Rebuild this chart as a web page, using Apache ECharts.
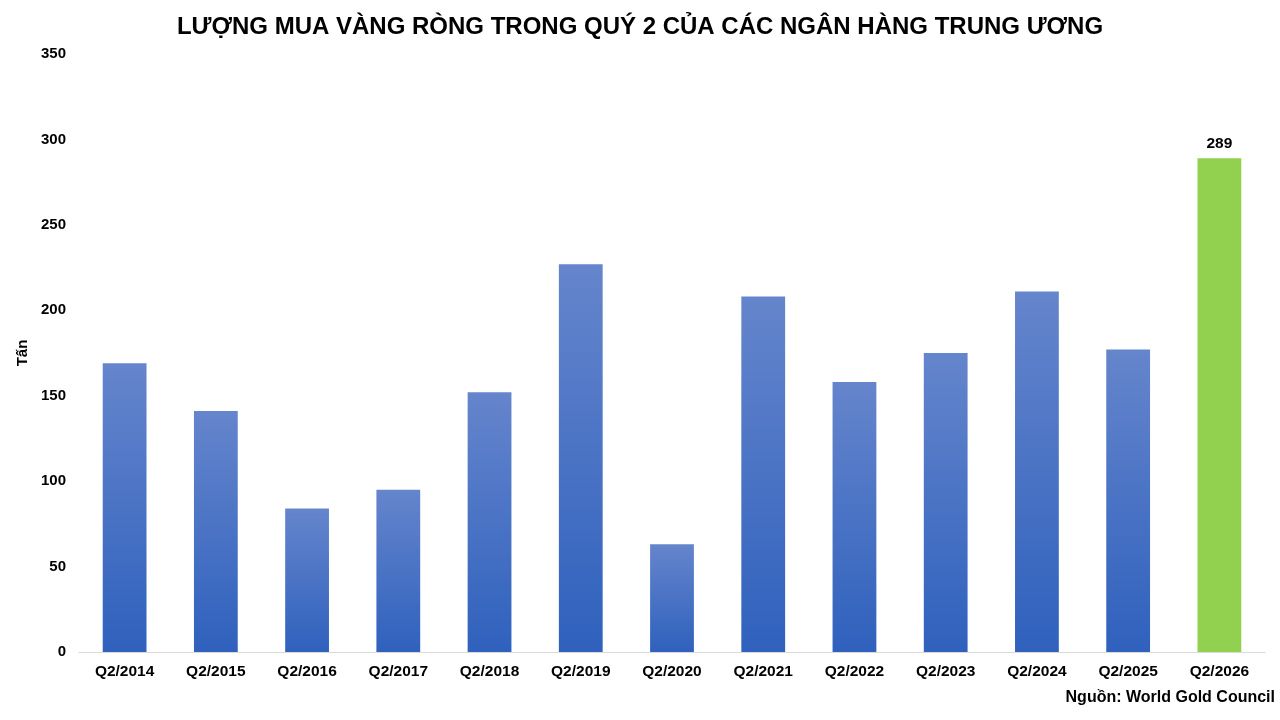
<!DOCTYPE html>
<html>
<head>
<meta charset="utf-8">
<script src="https://cdn.jsdelivr.net/npm/echarts@6/dist/echarts.min.js"></script>
<style>
  html, body { margin: 0; padding: 0; background: #fff; }
  #main { width: 1280px; height: 720px; }
</style>
</head>
<body>
<div id="main"></div>
<script>
// dữ liệu: lượng mua vàng ròng quý 2 (tấn)
const quarters = ['Q2/2014', 'Q2/2015', 'Q2/2016', 'Q2/2017', 'Q2/2018', 'Q2/2019', 'Q2/2020',
                  'Q2/2021', 'Q2/2022', 'Q2/2023', 'Q2/2024', 'Q2/2025', 'Q2/2026'];
const tons = [169, 141, 84, 95, 152, 227, 63, 208, 158, 175, 211, 177, 289];
const highlightIndex = 12;

const font = '"Liberation Sans", Arial, sans-serif';

const blueGrad = new echarts.graphic.LinearGradient(0, 0, 0, 1, [
  { offset: 0, color: '#6585cc' },
  { offset: 1, color: '#2f61bd' }
]);

const chart = echarts.init(document.getElementById('main'));
chart.setOption({
  backgroundColor: '#fff',
  animation: false,
  title: {
    text: 'LƯỢNG MUA VÀNG RÒNG TRONG QUÝ 2 CỦA CÁC NGÂN HÀNG TRUNG ƯƠNG',
    left: 'center',
    top: 10,
    textStyle: { fontFamily: font, fontSize: 24, fontWeight: 'bold', color: '#000' }
  },
  graphic: [{
    type: 'text',
    right: 5,
    top: 690,
    style: { text: 'Nguồn: World Gold Council', font: 'bold 16px ' + font, fill: '#000' }
  }],
  grid: { left: 79, right: 15, top: 54, bottom: 68 },
  xAxis: {
    type: 'category',
    data: quarters,
    axisLine: { lineStyle: { color: '#d9d9d9', width: 1 } },
    axisTick: { show: false },
    axisLabel: { color: '#000', fontFamily: font, fontSize: 15.5, fontWeight: 'bold', margin: 12 }
  },
  yAxis: {
    type: 'value',
    min: 0,
    max: 350,
    interval: 50,
    name: 'Tấn',
    nameLocation: 'middle',
    nameGap: 41,
    nameTextStyle: { color: '#000', fontFamily: font, fontSize: 15, fontWeight: 'bold' },
    splitLine: { show: false },
    axisLine: { show: false },
    axisTick: { show: false },
    axisLabel: { color: '#000', fontFamily: font, fontSize: 15, fontWeight: 'bold', margin: 13 }
  },
  series: [{
    type: 'bar',
    barWidth: '48%',
    data: tons.map((v, i) => i === highlightIndex
      ? { value: v, itemStyle: { color: '#92d050' },
          label: { show: true, position: 'top', distance: 7, color: '#000',
                   fontFamily: font, fontSize: 15.5, fontWeight: 'bold' } }
      : { value: v, itemStyle: { color: blueGrad } })
  }]
});
</script>
</body>
</html>
